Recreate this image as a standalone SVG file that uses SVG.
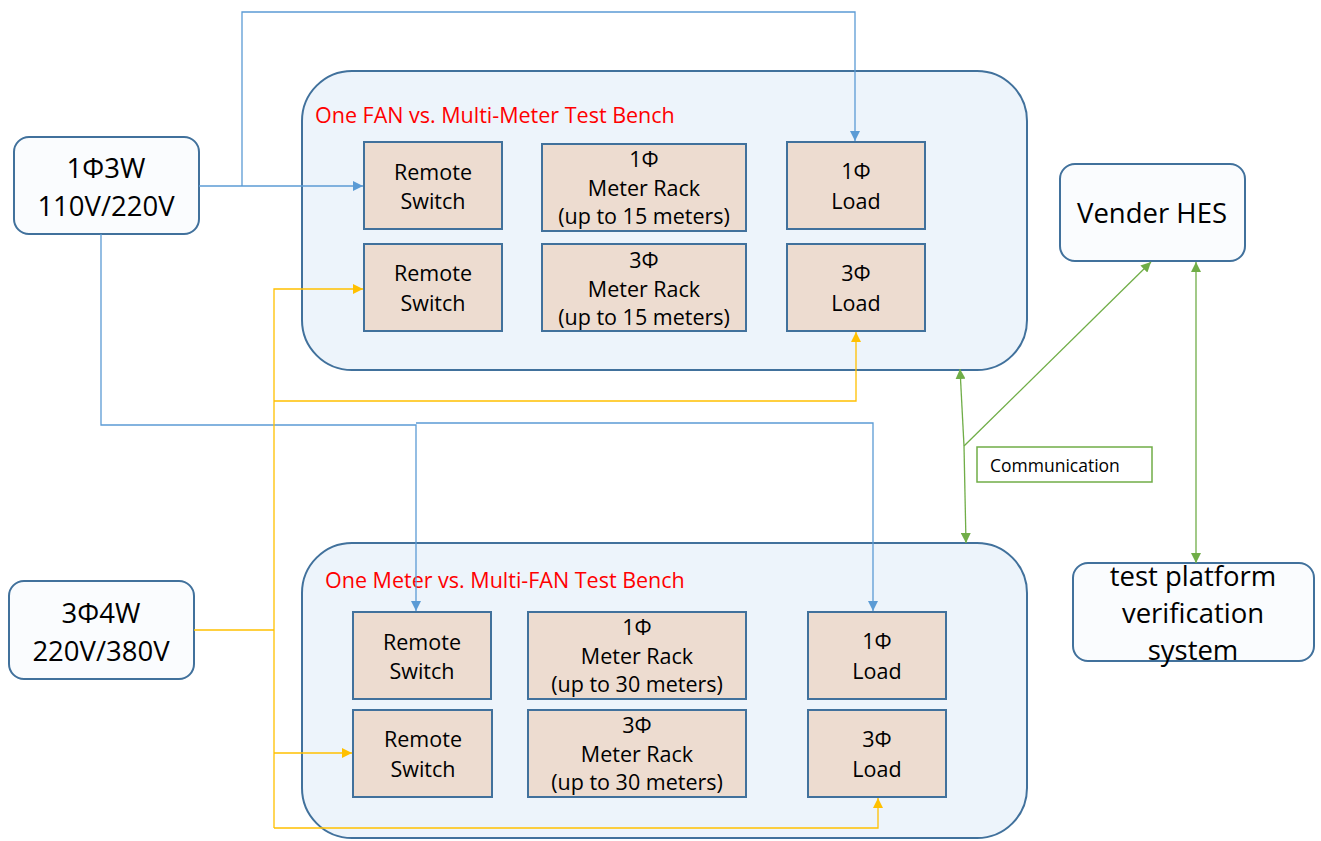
<svg xmlns="http://www.w3.org/2000/svg" width="1321" height="841" viewBox="0 0 1321 841">
<defs>
<marker id="ab" viewBox="0 0 10 10" refX="10" refY="5" markerWidth="10" markerHeight="10" markerUnits="userSpaceOnUse" orient="auto"><path d="M0,0 L10,5 L0,10 z" fill="#5B9BD5"/></marker>
<marker id="ay" viewBox="0 0 10 10" refX="10" refY="5" markerWidth="10" markerHeight="10" markerUnits="userSpaceOnUse" orient="auto"><path d="M0,0 L10,5 L0,10 z" fill="#FFC000"/></marker>
<marker id="ag" viewBox="0 0 10 10" refX="10" refY="5" markerWidth="10" markerHeight="10" markerUnits="userSpaceOnUse" orient="auto"><path d="M0,0 L10,5 L0,10 z" fill="#70AD47"/></marker>
<marker id="ags" viewBox="0 0 10 10" refX="0" refY="5" markerWidth="10" markerHeight="10" markerUnits="userSpaceOnUse" orient="auto"><path d="M10,0 L0,5 L10,10 z" fill="#70AD47"/></marker>
</defs>
<style>
text{font-family:"Open Sans","Liberation Sans",sans-serif;fill:#000;text-anchor:middle}
.bench{fill:#EDF4FB;stroke:#41719C;stroke-width:2}
.box{fill:#EDDCD0;stroke:#41719C;stroke-width:2}
.src{fill:#FAFCFE;stroke:#41719C;stroke-width:2}
.t{font-size:21.5px}
.big{font-size:27.5px}
.title{font-size:21.5px;fill:#FF0000;text-anchor:start}
.b{fill:none;stroke:#5B9BD5;stroke-width:1.3}
.y{fill:none;stroke:#FFC000;stroke-width:1.3}
.g{fill:none;stroke:#70AD47;stroke-width:1.3}
</style>
<rect width="1321" height="841" fill="#fff"/>
<g id="bench-top"><rect class="bench" x="302" y="71" width="725" height="299" rx="50"/><text class="title" x="315" y="123">One FAN vs. Multi-Meter Test Bench</text></g>
<g id="bench-bottom"><rect class="bench" x="302" y="543" width="725" height="295" rx="50"/><text class="title" x="325" y="588">One Meter vs. Multi-FAN Test Bench</text></g>
<g id="src-1p3w"><rect class="src" x="14" y="137" width="185" height="97" rx="15"/><text class="big" x="106" y="178">1Φ3W</text><text class="big" x="106" y="216">110V/220V</text></g>
<g id="src-3p4w"><rect class="src" x="9" y="581" width="185" height="98" rx="15"/><text class="big" x="101" y="623">3Φ4W</text><text class="big" x="101" y="661">220V/380V</text></g>
<g id="hes"><rect class="src" x="1060" y="164" width="185" height="97" rx="15"/><text class="big" x="1152" y="223">Vender HES</text></g>
<g id="tpvs"><rect class="src" x="1073" y="563" width="241" height="98" rx="15"/><text class="big" x="1193" y="586">test platform</text><text class="big" x="1193" y="623">verification</text><text class="big" x="1193" y="660">system</text></g>
<g id="comm"><rect x="977" y="447" width="175" height="35" fill="#fff" stroke="#70AD47" stroke-width="1.5"/><text x="990" y="472" style="font-size:17.5px;text-anchor:start">Communication</text></g>
<g id="t-rs1"><rect class="box" x="364" y="142" width="138" height="87"/><text class="t" x="433" y="180">Remote</text><text class="t" x="433" y="209">Switch</text></g>
<g id="t-mr1"><rect class="box" x="542" y="144" width="204" height="87"/><text class="t" x="644" y="167">1Φ</text><text class="t" x="644" y="196">Meter Rack</text><text class="t" x="644" y="224">(up to 15 meters)</text></g>
<g id="t-ld1"><rect class="box" x="787" y="142" width="138" height="87"/><text class="t" x="856" y="179">1Φ</text><text class="t" x="856" y="209">Load</text></g>
<g id="t-rs2"><rect class="box" x="364" y="244" width="138" height="87"/><text class="t" x="433" y="281">Remote</text><text class="t" x="433" y="311">Switch</text></g>
<g id="t-mr2"><rect class="box" x="542" y="244" width="204" height="87"/><text class="t" x="644" y="268">3Φ</text><text class="t" x="644" y="297">Meter Rack</text><text class="t" x="644" y="325">(up to 15 meters)</text></g>
<g id="t-ld2"><rect class="box" x="787" y="244" width="138" height="87"/><text class="t" x="856" y="281">3Φ</text><text class="t" x="856" y="311">Load</text></g>
<g id="b-rs1"><rect class="box" x="353" y="612" width="138" height="87"/><text class="t" x="422" y="650">Remote</text><text class="t" x="422" y="679">Switch</text></g>
<g id="b-mr1"><rect class="box" x="528" y="612" width="218" height="87"/><text class="t" x="637" y="635">1Φ</text><text class="t" x="637" y="664">Meter Rack</text><text class="t" x="637" y="692">(up to 30 meters)</text></g>
<g id="b-ld1"><rect class="box" x="808" y="612" width="138" height="87"/><text class="t" x="877" y="649">1Φ</text><text class="t" x="877" y="679">Load</text></g>
<g id="b-rs2"><rect class="box" x="353" y="710" width="139" height="87"/><text class="t" x="423" y="747">Remote</text><text class="t" x="423" y="777">Switch</text></g>
<g id="b-mr2"><rect class="box" x="528" y="710" width="218" height="87"/><text class="t" x="637" y="733">3Φ</text><text class="t" x="637" y="762">Meter Rack</text><text class="t" x="637" y="790">(up to 30 meters)</text></g>
<g id="b-ld2"><rect class="box" x="808" y="710" width="138" height="87"/><text class="t" x="877" y="747">3Φ</text><text class="t" x="877" y="777">Load</text></g>
<g id="connectors">
<path class="b" d="M199,186 H363" marker-end="url(#ab)"/>
<path class="b" d="M242,186 V12 H855 V141" marker-end="url(#ab)"/>
<path class="b" d="M101,234 V425 H416 V611" marker-end="url(#ab)"/>
<path class="b" d="M416,423 H873 V611" marker-end="url(#ab)"/>
<path class="y" d="M194,630 H274"/>
<path class="y" d="M274,828 V289 H363" marker-end="url(#ay)"/>
<path class="y" d="M274,401 H856 V332" marker-end="url(#ay)"/>
<path class="y" d="M274,753 H352" marker-end="url(#ay)"/>
<path class="y" d="M274,828 H878 V798" marker-end="url(#ay)"/>
<path class="g" d="M964,446 L960,369" marker-end="url(#ag)"/>
<path class="g" d="M964,446 L966,543" marker-end="url(#ag)"/>
<path class="g" d="M964,446 L1151,262" marker-end="url(#ag)"/>
<path class="g" d="M1196,262 V563" marker-start="url(#ags)" marker-end="url(#ag)"/>
</g>
</svg>
